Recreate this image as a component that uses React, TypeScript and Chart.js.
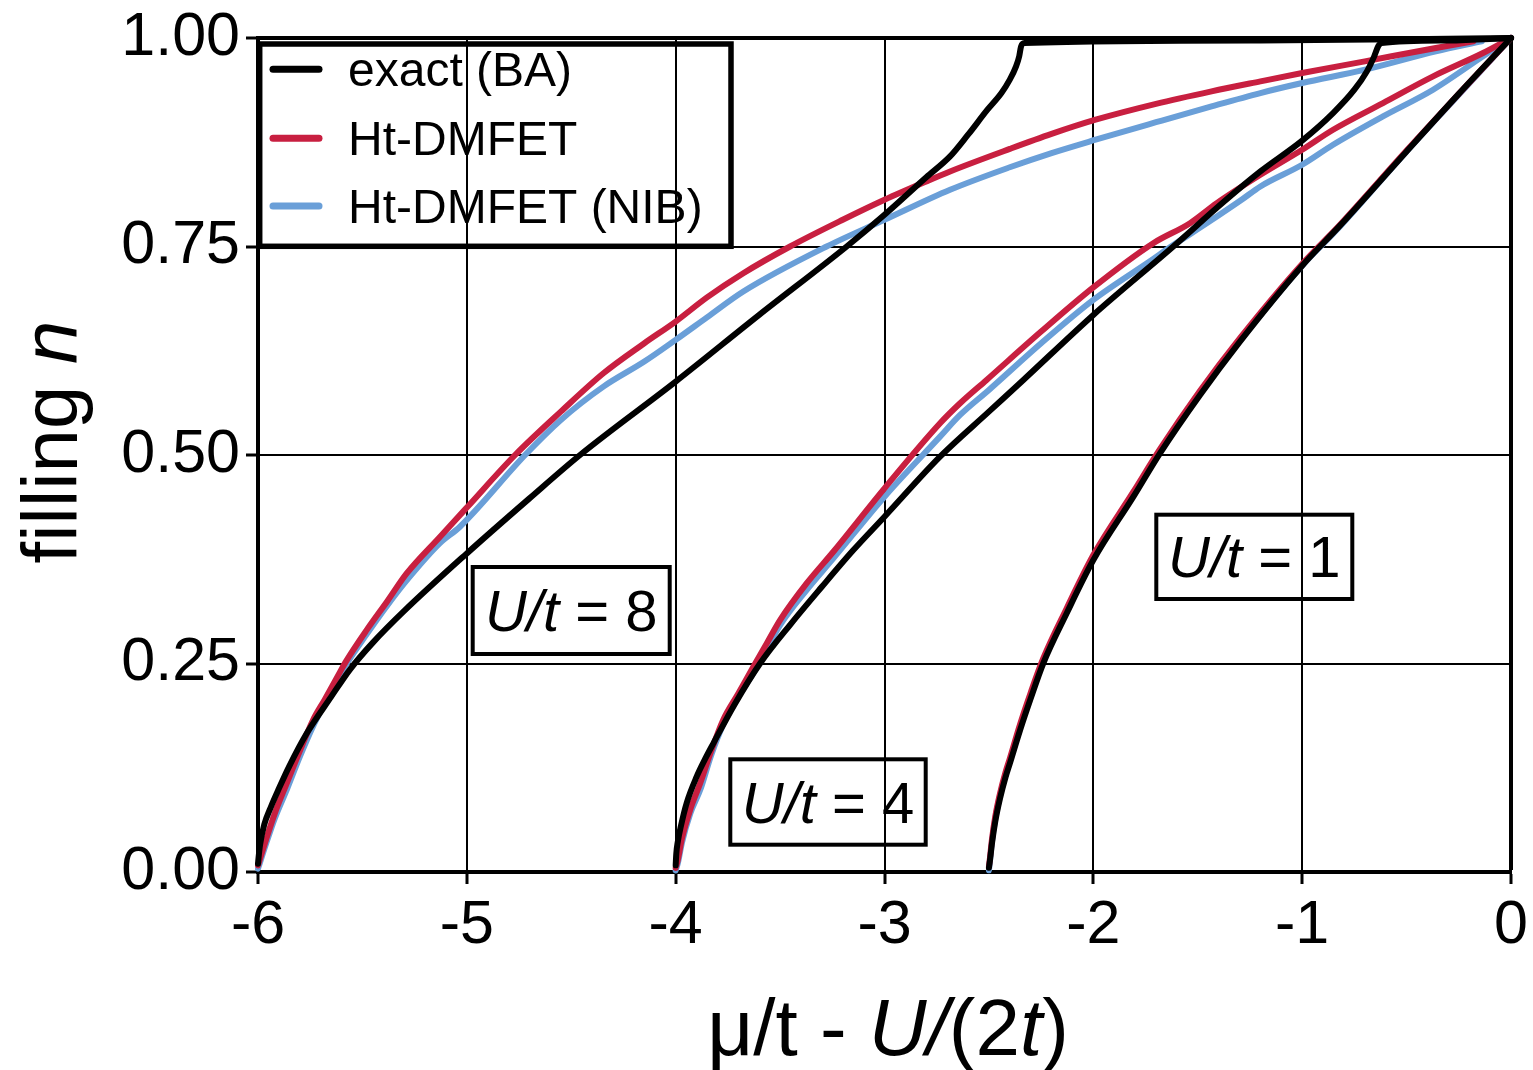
import React, { useEffect, useRef } from 'react';
import { Chart, registerables } from 'chart.js';

Chart.register(...registerables);

const FONT = '"Liberation Sans", Arial, Helvetica, sans-serif';

// ---- axis ticks ----
const xTickValues = [-6, -5, -4, -3, -2, -1, 0];
const xTickLabels = ['-6', '-5', '-4', '-3', '-2', '-1', '0'];
const yTickValues = [0, 0.25, 0.5, 0.75, 1];
const yTickLabels = ['0.00', '0.25', '0.50', '0.75', '1.00'];

// ---- legend / labels ----
const seriesNames = ['exact (BA)', 'Ht-DMFET', 'Ht-DMFET (NIB)'];
const seriesColors = ['#000000', '#C81F40', '#6A9FD8'];
const panelValues = ['8', '4', '1'];

// ---- U/t = 8 ----
const u8ExactX = [-6.0, -5.997, -5.99, -5.97, -5.94, -5.9, -5.85, -5.767, -5.65, -5.559, -5.45, -5.3, -5.0, -4.7, -4.458, -4.0, -3.6, -3.181, -3.0, -2.8, -2.686, -2.6, -2.507, -2.44, -2.4, -2.37, -2.355, -2.346, -2.33, -1.2, 0.0];
const u8ExactY = [0.01, 0.018, 0.033, 0.057, 0.077, 0.1, 0.127, 0.166, 0.21, 0.243, 0.275, 0.313, 0.382, 0.448, 0.5, 0.588, 0.668, 0.75, 0.788, 0.833, 0.858, 0.884, 0.914, 0.934, 0.95, 0.966, 0.978, 0.99, 0.994, 0.997, 1.0];

const u8HtX = [-6.0, -5.96, -5.92, -5.863, -5.8, -5.737, -5.68, -5.607, -5.58, -5.48, -5.38, -5.288, -5.128, -5.0, -4.769, -4.55, -4.346, -4.15, -4.0, -3.85, -3.676, -3.452, -3.2, -3.0, -2.8, -2.686, -2.4, -2.2, -1.989, -1.7, -1.434, -1.2, -1.0, -0.7, -0.36, -0.18];
const u8HtY = [0.008, 0.04, 0.07, 0.106, 0.145, 0.182, 0.207, 0.24, 0.252, 0.29, 0.325, 0.358, 0.402, 0.437, 0.5, 0.552, 0.598, 0.634, 0.66, 0.689, 0.718, 0.75, 0.782, 0.806, 0.828, 0.84, 0.867, 0.885, 0.902, 0.921, 0.936, 0.948, 0.958, 0.972, 0.988, 0.996];

const u8NibX = [-6.0, -5.96, -5.92, -5.86, -5.8, -5.73, -5.66, -5.58, -5.48, -5.38, -5.28, -5.13, -5.033, -4.721, -4.55, -4.346, -4.15, -4.0, -3.85, -3.676, -3.277, -3.0, -2.686, -2.4, -2.2, -1.989, -1.7, -1.434, -1.2, -1.0, -0.7, -0.36, -0.14];
const u8NibY = [0.004, 0.035, 0.064, 0.1, 0.138, 0.178, 0.212, 0.248, 0.285, 0.32, 0.352, 0.394, 0.414, 0.5, 0.542, 0.582, 0.612, 0.638, 0.665, 0.696, 0.75, 0.782, 0.818, 0.845, 0.862, 0.878, 0.899, 0.918, 0.934, 0.946, 0.962, 0.984, 0.996];

// ---- U/t = 4 ----
const u4ExactX = [-4.0, -3.997, -3.99, -3.975, -3.947, -3.9, -3.86, -3.82, -3.72, -3.596, -3.45, -3.3, -3.149, -3.0, -2.734, -2.5, -2.335, -2.0, -1.617, -1.378, -1.2, -1.0, -0.852, -0.75, -0.69, -0.655, -0.636, -0.62, -0.3, 0.0];
const u4ExactY = [0.008, 0.022, 0.036, 0.055, 0.083, 0.114, 0.135, 0.154, 0.2, 0.25, 0.297, 0.342, 0.386, 0.426, 0.498, 0.552, 0.59, 0.668, 0.75, 0.803, 0.84, 0.877, 0.91, 0.938, 0.96, 0.978, 0.99, 0.994, 0.997, 1.0];

const u4HtX = [-4.0, -3.99, -3.97, -3.93, -3.883, -3.83, -3.773, -3.7, -3.628, -3.564, -3.5, -3.373, -3.245, -3.0, -2.734, -2.638, -2.511, -2.25, -2.0, -1.713, -1.537, -1.409, -1.2, -1.0, -0.852, -0.613, -0.373, -0.134, 0.0];
const u4HtY = [0.005, 0.014, 0.04, 0.075, 0.106, 0.145, 0.182, 0.214, 0.246, 0.274, 0.302, 0.346, 0.384, 0.46, 0.538, 0.562, 0.59, 0.648, 0.701, 0.754, 0.778, 0.802, 0.836, 0.866, 0.89, 0.922, 0.954, 0.982, 1.0];

const u4NibX = [-4.0, -3.99, -3.97, -3.93, -3.88, -3.83, -3.77, -3.7, -3.62, -3.5, -3.373, -3.245, -3.0, -2.734, -2.638, -2.5, -2.25, -2.0, -1.713, -1.633, -1.45, -1.29, -1.2, -1.0, -0.852, -0.613, -0.373, -0.134, 0.0];
const u4NibY = [0.002, 0.01, 0.035, 0.07, 0.1, 0.14, 0.178, 0.21, 0.242, 0.296, 0.338, 0.376, 0.45, 0.522, 0.548, 0.578, 0.634, 0.686, 0.735, 0.749, 0.779, 0.806, 0.822, 0.848, 0.872, 0.906, 0.938, 0.978, 1.0];

// ---- U/t = 1 ----
const u1ExactX = [-2.5, -2.495, -2.485, -2.47, -2.447, -2.42, -2.4, -2.351, -2.3, -2.24, -2.128, -2.0, -1.808, -1.681, -1.489, -1.298, -1.0, -0.819, -0.5, -0.25, 0.0];
const u1ExactY = [0.005, 0.014, 0.035, 0.06, 0.088, 0.114, 0.13, 0.17, 0.208, 0.25, 0.31, 0.374, 0.45, 0.502, 0.572, 0.636, 0.727, 0.775, 0.864, 0.933, 1.0];

const u1HtX = [-2.5, -2.495, -2.485, -2.47, -2.447, -2.42, -2.4, -2.351, -2.3, -2.24, -2.128, -2.0, -1.808, -1.681, -1.489, -1.298, -1.0, -0.819, -0.5, -0.25, 0.0];
const u1HtY = [0.006, 0.017, 0.04, 0.066, 0.094, 0.12, 0.136, 0.177, 0.215, 0.256, 0.316, 0.38, 0.456, 0.507, 0.577, 0.64, 0.729, 0.776, 0.865, 0.933, 1.0];

const u1NibX = [-2.5, -2.495, -2.485, -2.47, -2.447, -2.42, -2.4, -2.351, -2.3, -2.24, -2.128, -2.0, -1.808, -1.681, -1.489, -1.298, -1.0, -0.819, -0.5, -0.25, 0.0];
const u1NibY = [0.002, 0.013, 0.037, 0.063, 0.091, 0.117, 0.133, 0.174, 0.212, 0.253, 0.313, 0.377, 0.453, 0.504, 0.574, 0.637, 0.727, 0.774, 0.864, 0.932, 1.0];

type Seg = { text: string; italic?: boolean };

function setFont(ctx: CanvasRenderingContext2D, size: number, italic?: boolean) {
  ctx.font = `${italic ? 'italic ' : ''}${size}px ${FONT}`;
}

function richWidth(ctx: CanvasRenderingContext2D, segs: Seg[], size: number) {
  let w = 0;
  for (const s of segs) {
    setFont(ctx, size, s.italic);
    w += ctx.measureText(s.text).width;
  }
  return w;
}

function drawRich(ctx: CanvasRenderingContext2D, segs: Seg[], size: number, x: number, y: number, align: 'left' | 'center') {
  const w = richWidth(ctx, segs, size);
  let cx = align === 'center' ? x - w / 2 : x;
  ctx.textAlign = 'left';
  ctx.textBaseline = 'alphabetic';
  ctx.fillStyle = '#000';
  for (const s of segs) {
    setFont(ctx, size, s.italic);
    ctx.fillText(s.text, cx, y);
    cx += ctx.measureText(s.text).width;
  }
}

const overlayPlugin = {
  id: 'overlayPlugin',
  afterDraw(chart: any) {
    const ctx: CanvasRenderingContext2D = chart.ctx;
    ctx.save();

    // Legend box
    ctx.strokeStyle = '#000';
    ctx.lineWidth = 5.5;
    ctx.strokeRect(259.7, 44, 471.3, 202.3);
    const rowY = [69.3, 138.3, 206];
    for (let i = 0; i < 3; i++) {
      ctx.beginPath();
      ctx.strokeStyle = seriesColors[i];
      ctx.lineWidth = 7;
      ctx.lineCap = 'round';
      ctx.moveTo(273, rowY[i]);
      ctx.lineTo(319, rowY[i]);
      ctx.stroke();
      ctx.fillStyle = '#000';
      setFont(ctx, 48);
      ctx.textAlign = 'left';
      ctx.textBaseline = 'alphabetic';
      ctx.fillText(seriesNames[i], 348, rowY[i] + 17);
    }

    // Annotation boxes
    const boxes = [
      { x: 472.7, y: 567, w: 197, h: 87 },
      { x: 730.3, y: 759.3, w: 195.4, h: 85.4 },
      { x: 1156.3, y: 514.7, w: 196, h: 84.3 },
    ];
    boxes.forEach((b, i) => {
      ctx.strokeStyle = '#000';
      ctx.lineWidth = 4;
      ctx.lineCap = 'butt';
      ctx.strokeRect(b.x, b.y, b.w, b.h);
      drawRich(ctx, [{ text: 'U/t', italic: true }, { text: ' = ' + panelValues[i] }], 58, b.x + b.w / 2, b.y + b.h / 2 + 20.5, 'center');
    });

    // X axis title
    drawRich(
      ctx,
      [{ text: 'μ/t - ' }, { text: 'U/', italic: true }, { text: '(2' }, { text: 't', italic: true }, { text: ')' }],
      80,
      888,
      1055,
      'center'
    );

    // Y axis title
    ctx.save();
    ctx.translate(77, 442);
    ctx.rotate(-Math.PI / 2);
    drawRich(ctx, [{ text: 'filling ' }, { text: 'n', italic: true }], 78, 0, 0, 'center');
    ctx.restore();

    ctx.restore();
  },
};

export default function App() {
  const ref = useRef<HTMLCanvasElement>(null);

  useEffect(() => {
    const canvas = ref.current;
    if (!canvas) return;

    const mk = (label: string, xs: number[], ys: number[], color: string) => ({
      label,
      data: xs.map((x, i) => ({ x, y: ys[i] })),
      borderColor: color,
      backgroundColor: color,
      borderWidth: 6,
      pointRadius: 0,
      pointHoverRadius: 0,
      showLine: true,
      fill: false,
      cubicInterpolationMode: 'monotone' as const,
      borderCapStyle: 'round' as const,
      borderJoinStyle: 'round' as const,
      clip: false as const,
    });

    const datasets = [
      mk(seriesNames[0] + ' U8', u8ExactX, u8ExactY, seriesColors[0]),
      mk(seriesNames[0] + ' U4', u4ExactX, u4ExactY, seriesColors[0]),
      mk(seriesNames[0] + ' U1', u1ExactX, u1ExactY, seriesColors[0]),
      mk(seriesNames[1] + ' U8', u8HtX, u8HtY, seriesColors[1]),
      mk(seriesNames[1] + ' U4', u4HtX, u4HtY, seriesColors[1]),
      mk(seriesNames[1] + ' U1', u1HtX, u1HtY, seriesColors[1]),
      mk(seriesNames[2] + ' U8', u8NibX, u8NibY, seriesColors[2]),
      mk(seriesNames[2] + ' U4', u4NibX, u4NibY, seriesColors[2]),
      mk(seriesNames[2] + ' U1', u1NibX, u1NibY, seriesColors[2]),
    ];

    const chart = new Chart(canvas, {
      type: 'scatter',
      data: { datasets },
      options: {
        animation: false,
        responsive: false,
        devicePixelRatio: 1,
        events: [],
        layout: { padding: { left: 0, top: 38, right: 22, bottom: 0 } },
        plugins: { legend: { display: false }, tooltip: { enabled: false } },
        scales: {
          x: {
            type: 'linear',
            min: -6,
            max: 0,
            afterBuildTicks: (s: any) => {
              s.ticks = xTickValues.map((v) => ({ value: v }));
            },
            afterFit: (s: any) => {
              s.height = 198;
              s.paddingLeft = 0;
              s.paddingRight = 0;
            },
            ticks: {
              font: { family: FONT, size: 61 },
              color: '#000',
              padding: 6,
              maxRotation: 0,
              autoSkip: false,
              callback: (v: any) => xTickLabels[xTickValues.indexOf(Number(v))] ?? '',
            },
            grid: {
              color: '#000',
              lineWidth: (c: any) => (c.tick && c.tick.value === 0 ? 4 : 2),
              tickLength: 12,
              tickWidth: 3,
              tickColor: '#000',
            },
            border: { display: true, color: '#000', width: 4 },
          },
          y: {
            type: 'linear',
            min: 0,
            max: 1,
            afterBuildTicks: (s: any) => {
              s.ticks = yTickValues.map((v) => ({ value: v }));
            },
            afterFit: (s: any) => {
              s.width = 258;
              s.paddingTop = 0;
              s.paddingBottom = 0;
            },
            ticks: {
              font: { family: FONT, size: 61 },
              color: '#000',
              padding: 6,
              autoSkip: false,
              callback: (v: any) => yTickLabels[yTickValues.indexOf(Number(v))] ?? '',
            },
            grid: {
              color: '#000',
              lineWidth: (c: any) => (c.tick && c.tick.value === 1 ? 4 : 2),
              tickLength: 12,
              tickWidth: 3,
              tickColor: '#000',
            },
            border: { display: true, color: '#000', width: 4 },
          },
        },
      },
      plugins: [overlayPlugin],
    } as any);

    return () => chart.destroy();
  }, []);

  return (
    <div style={{ position: 'fixed', left: 0, top: 0, width: 1533, height: 1070, background: '#fff' }}>
      <canvas ref={ref} width={1533} height={1070} style={{ display: 'block' }} />
    </div>
  );
}
